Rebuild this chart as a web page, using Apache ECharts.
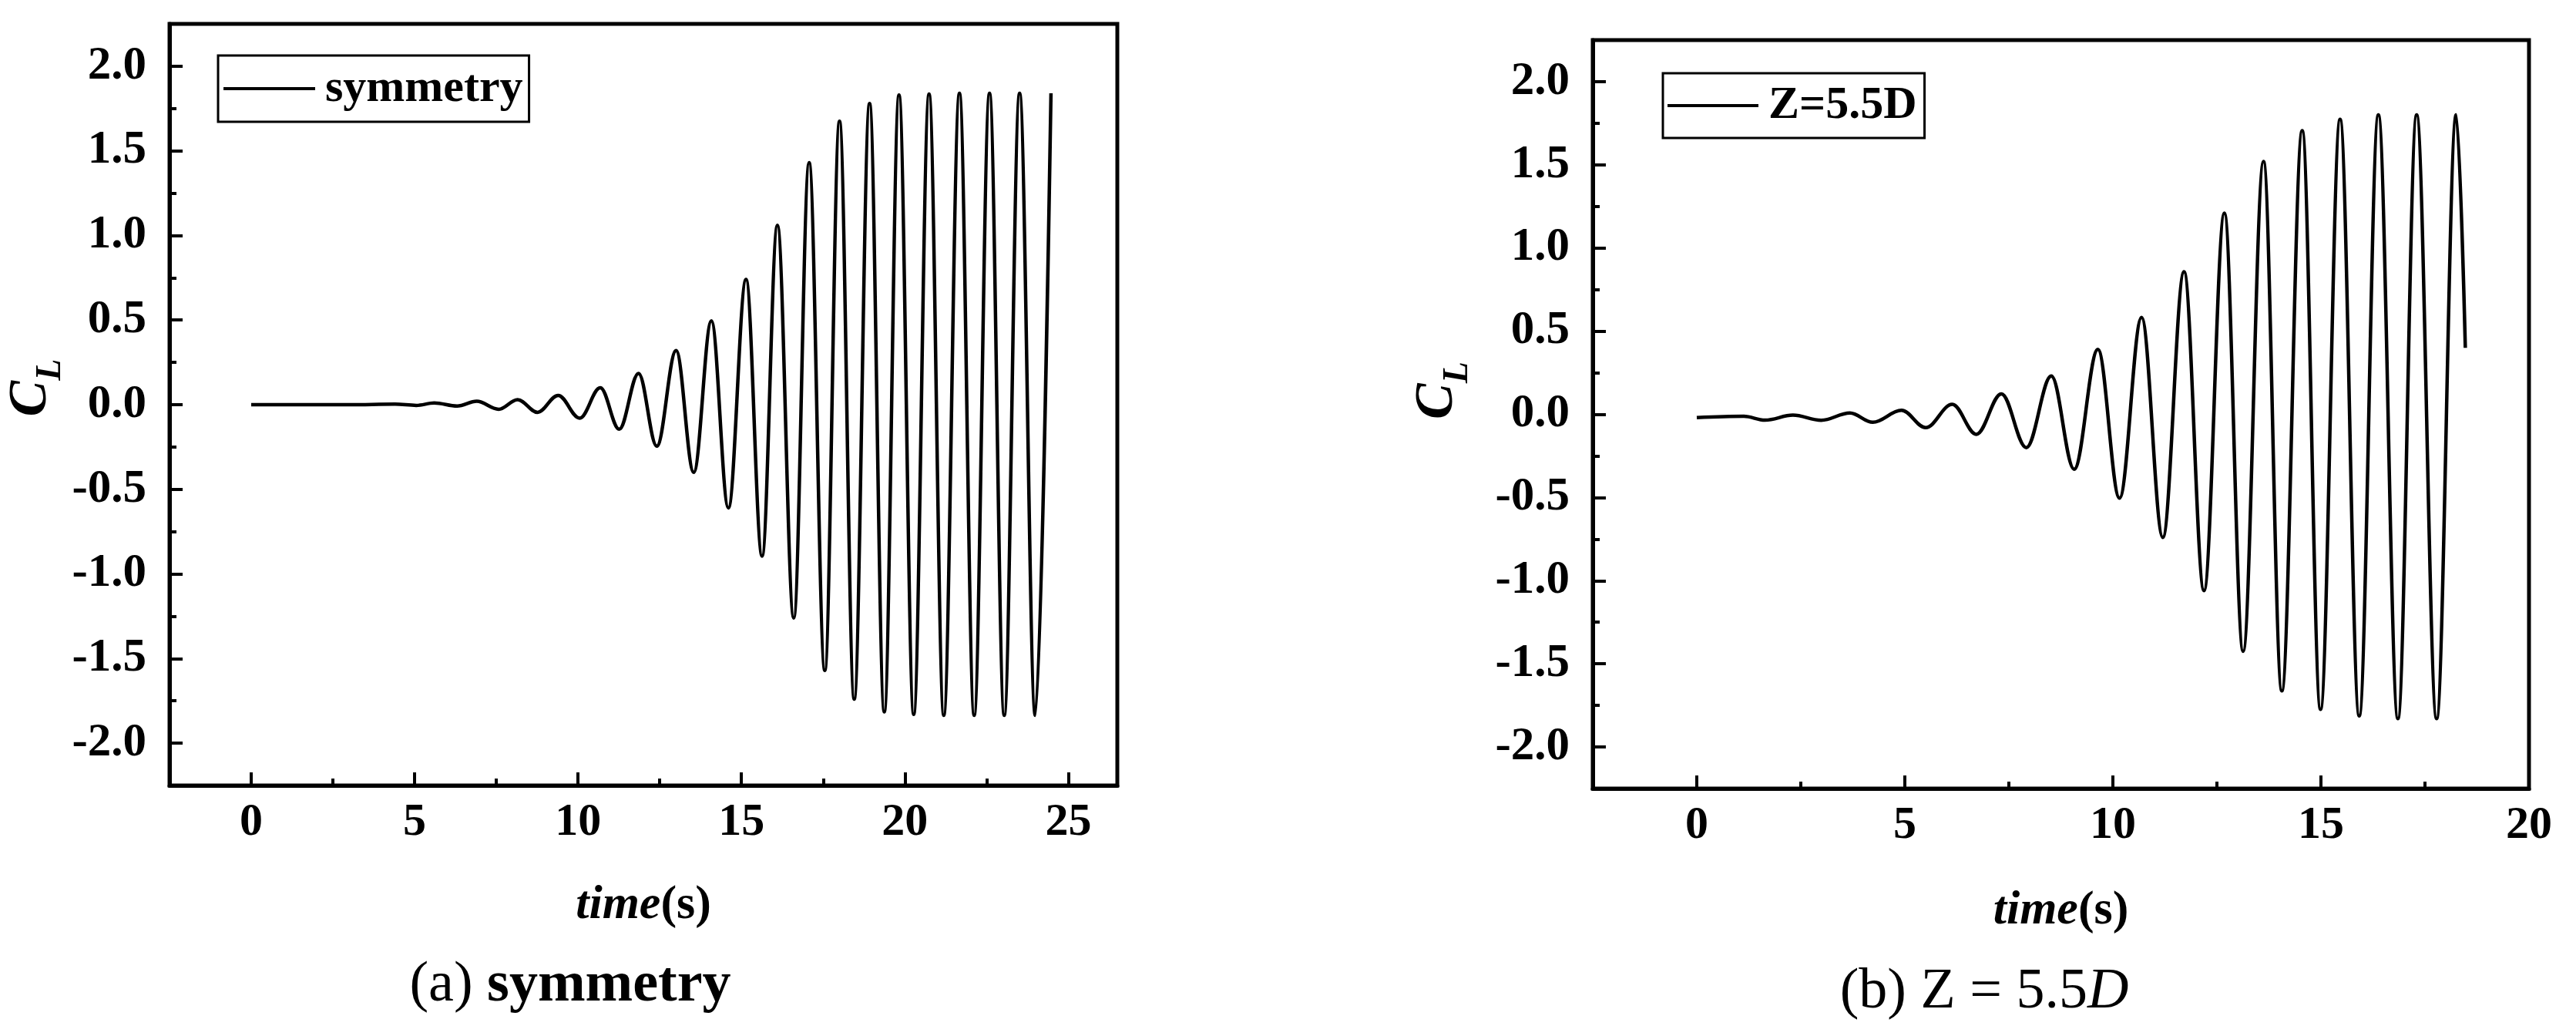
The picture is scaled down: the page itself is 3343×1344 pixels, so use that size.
<!DOCTYPE html>
<html><head><meta charset="utf-8">
<script src="https://cdn.jsdelivr.net/npm/echarts@6/dist/echarts.min.js"></script>
<style>html,body{margin:0;padding:0;background:#fff}#c{width:3343px;height:1344px}</style>
</head><body><div id="c"></div>
<script>
// ---- data (extrema of the oscillation) ----
const timeA = [0, 3.0, 4.4, 5.05, 5.6, 6.3, 6.9, 7.57, 8.15, 8.76, 9.39, 10.05, 10.68, 11.26, 11.85, 12.41, 13.0, 13.54, 14.08, 14.6, 15.14, 15.63, 16.1, 16.6, 17.07, 17.55, 18.0, 18.45, 18.92, 19.37, 19.82, 20.27, 20.74, 21.19, 21.67, 22.12, 22.59, 23.04, 23.51, 23.99, 24.47];
const clA = [0, 0, 0.003, -0.004, 0.01, -0.008, 0.02, -0.027, 0.03, -0.045, 0.055, -0.08, 0.10, -0.145, 0.185, -0.245, 0.32, -0.40, 0.495, -0.61, 0.74, -0.895, 1.06, -1.26, 1.43, -1.57, 1.675, -1.74, 1.78, -1.815, 1.83, -1.83, 1.835, -1.835, 1.84, -1.835, 1.84, -1.835, 1.84, -1.835, 1.84];

const timeB = [0, 1.13, 1.64, 2.31, 2.99, 3.68, 4.23, 4.92, 5.5, 6.14, 6.72, 7.32, 7.92, 8.52, 9.07, 9.64, 10.16, 10.69, 11.2, 11.71, 12.19, 12.68, 13.13, 13.62, 14.06, 14.55, 14.99, 15.46, 15.92, 16.38, 16.85, 17.3, 17.78, 18.25, 18.47];
const clB = [-0.02, -0.012, -0.035, -0.005, -0.036, 0.008, -0.048, 0.024, -0.08, 0.06, -0.12, 0.123, -0.20, 0.23, -0.33, 0.39, -0.504, 0.583, -0.74, 0.857, -1.06, 1.21, -1.425, 1.52, -1.663, 1.706, -1.774, 1.774, -1.813, 1.80, -1.83, 1.80, -1.83, 1.80, 0.40];

const seriesNames = ['symmetry', 'Z=5.5D'];
const xMajorA = [0, 5, 10, 15, 20, 25];
const xMinorA = [2.5, 7.5, 12.5, 17.5, 22.5];
const xMajorB = [0, 5, 10, 15, 20];
const xMinorB = [2.5, 7.5, 12.5, 17.5];
const yMajor = [-2, -1.5, -1, -0.5, 0, 0.5, 1, 1.5, 2];
const yMinor = [-1.75, -1.25, -0.75, -0.25, 0.25, 0.75, 1.25, 1.75];
const xRangeA = [-2.5, 26.5];
const xRangeB = [-2.5, 20];
const yRange = [-2.25, 2.25];

// ---- styling ----
const FONT = 'Liberation Serif';
const BLACK = '#000';
const chart = echarts.init(document.getElementById('c'), null, {renderer: 'canvas'});

const grids = [
  {left: 220, top: 31, width: 1230, height: 988},
  {left: 2067, top: 52, width: 1215, height: 971}
];

function majorX(gi, range, vals, gap) {
  return {
    gridIndex: gi, type: 'value', min: range[0], max: range[1], position: 'bottom',
    axisLine: {show: true, onZero: false, lineStyle: {color: BLACK, width: 5}},
    axisTick: {show: true, inside: true, length: 17, customValues: vals, lineStyle: {color: BLACK, width: 4}},
    axisLabel: {show: true, customValues: vals, margin: 18, color: BLACK, fontSize: 60, fontWeight: 'bold', fontFamily: FONT},
    splitLine: {show: false},
    name: '{i|time}{n|(s)}', nameLocation: 'middle', nameGap: gap,
    nameTextStyle: {color: BLACK, rich: {
      i: {fontStyle: 'italic', fontWeight: 'bold', fontSize: 62, fontFamily: FONT, color: BLACK},
      n: {fontWeight: 'bold', fontSize: 62, fontFamily: FONT, color: BLACK}
    }}
  };
}
function minorX(gi, range, vals) {
  return {
    gridIndex: gi, type: 'value', min: range[0], max: range[1], position: 'bottom',
    axisLine: {show: false, onZero: false},
    axisTick: {show: true, inside: true, length: 9, customValues: vals, lineStyle: {color: BLACK, width: 4}},
    axisLabel: {show: false}, splitLine: {show: false}
  };
}
function majorY(gi, gap, shift) {
  return {
    gridIndex: gi, type: 'value', min: yRange[0], max: yRange[1], position: 'left',
    axisLine: {show: true, onZero: false, lineStyle: {color: BLACK, width: 5}},
    axisTick: {show: true, inside: true, length: 17, customValues: yMajor, lineStyle: {color: BLACK, width: 4}},
    axisLabel: {show: true, customValues: yMajor, margin: 30, color: BLACK, fontSize: 61, fontWeight: 'bold', fontFamily: FONT,
      formatter: v => Number(v).toFixed(1)},
    splitLine: {show: false},
    name: '{c|C}{l|L}', nameLocation: 'middle', nameGap: gap, nameRotate: 90,
    nameTextStyle: {color: BLACK, padding: [0, 0, 0, shift], rich: {
      c: {fontStyle: 'italic', fontWeight: 'bold', fontSize: 70, fontFamily: FONT, color: BLACK, verticalAlign: 'bottom', padding: [0, 0, 14, 0]},
      l: {fontStyle: 'italic', fontWeight: 'bold', fontSize: 46, fontFamily: FONT, color: BLACK, verticalAlign: 'bottom'}
    }}
  };
}
function minorY(gi) {
  return {
    gridIndex: gi, type: 'value', min: yRange[0], max: yRange[1], position: 'left',
    axisLine: {show: false, onZero: false},
    axisTick: {show: true, inside: true, length: 9, customValues: yMinor, lineStyle: {color: BLACK, width: 4}},
    axisLabel: {show: false}, splitLine: {show: false}
  };
}
function lineSeries(name, xi, yi, ts, vs) {
  return {
    name: name, type: 'line', xAxisIndex: xi, yAxisIndex: yi,
    data: ts.map((t, i) => [t, vs[i]]),
    symbol: 'none', smooth: 0.36, smoothMonotone: 'x',
    lineStyle: {color: BLACK, width: 4.5}, itemStyle: {color: BLACK},
    silent: true, animation: false, z: 3
  };
}
function legendBox(name, left, top, padding, itemWidth) {
  return {
    data: [{name: name, icon: 'rect'}], left: left, top: top, orient: 'horizontal',
    borderColor: BLACK, borderWidth: 3, padding: padding, itemWidth: itemWidth, itemHeight: 4,
    selectedMode: false, backgroundColor: '#fff',
    itemStyle: {color: BLACK, borderWidth: 0},
    textStyle: {color: BLACK, fontSize: 60, fontWeight: 'bold', fontFamily: FONT, padding: [0, 0, 0, 8]}
  };
}

const option = {
  backgroundColor: '#fff',
  animation: false,
  grid: grids.map(g => Object.assign({show: true, borderColor: BLACK, borderWidth: 5, backgroundColor: 'transparent'}, g)),
  xAxis: [majorX(0, xRangeA, xMajorA, 125), minorX(0, xRangeA, xMinorA), majorX(1, xRangeB, xMajorB, 128), minorX(1, xRangeB, xMinorB)],
  yAxis: [majorY(0, 98, 44), minorY(0), majorY(1, 152, 62), minorY(1)],
  legend: [legendBox(seriesNames[0], 283, 72, [13, 8, 13, 7], 119), legendBox(seriesNames[1], 2158, 95, [12, 10, 12, 6], 118)],
  series: [lineSeries(seriesNames[0], 0, 0, timeA, clA), lineSeries(seriesNames[1], 2, 2, timeB, clB)],
  graphic: [
    {type: 'text', x: 740, y: 1279, style: {text: '{a|(a) }{b|symmetry}', textAlign: 'center', textVerticalAlign: 'middle', fill: BLACK,
      rich: {a: {fontSize: 74, fontFamily: FONT, fill: BLACK}, b: {fontSize: 74, fontWeight: 'bold', fontFamily: FONT, fill: BLACK}}}},
    {type: 'text', x: 2575, y: 1288, style: {text: '{a|(b) Z = 5.5}{d|D}', textAlign: 'center', textVerticalAlign: 'middle', fill: BLACK,
      rich: {a: {fontSize: 74, fontFamily: FONT, fill: BLACK}, d: {fontSize: 74, fontStyle: 'italic', fontFamily: FONT, fill: BLACK}}}}
  ]
};
chart.setOption(option);
</script>
</body></html>
